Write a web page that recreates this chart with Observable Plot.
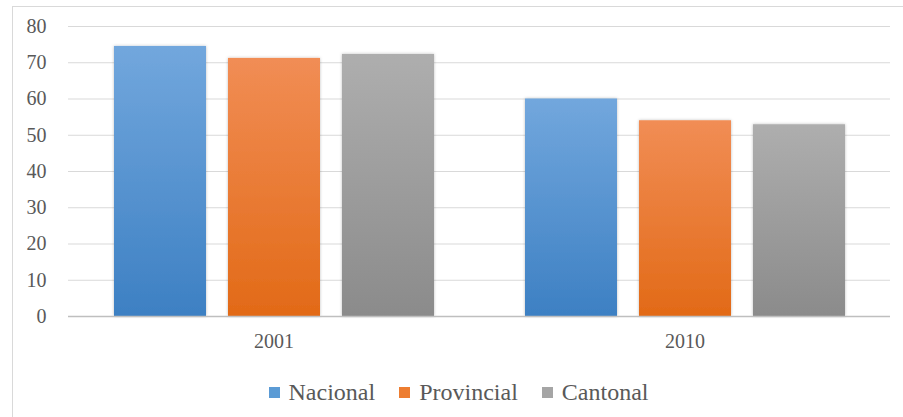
<!DOCTYPE html>
<html>
<head>
<meta charset="utf-8">
<script src="https://cdn.jsdelivr.net/npm/d3@7"></script>
<script src="https://cdn.jsdelivr.net/npm/@observablehq/plot@0.6"></script>
<style>
  html, body { margin: 0; padding: 0; background: #fff; overflow: hidden; width: 903px; height: 417px; }
  #frame { position: absolute; left: 12px; top: 6px; width: 1000px; height: 1000px; border: 1px solid #d9d9d9; box-sizing: border-box; }
  #chart { position: absolute; left: 0; top: 0; }
  #chart svg, #chart svg text { font-family: "Liberation Serif", "DejaVu Serif", serif !important; }
  #legend { position: absolute; left: 7px; top: 379px; width: 903px; display: flex; justify-content: center; align-items: center;
            font-family: "Liberation Serif", "DejaVu Serif", serif; font-size: 24px; color: #595959; }
  #legend .item { display: flex; align-items: center; margin: 0 12px; }
  #legend .sw { width: 11px; height: 11px; margin-right: 9px; }
</style>
</head>
<body>
<div id="frame"></div>
<svg width="0" height="0" style="position:absolute">
  <defs>
    <linearGradient id="gNacional" x1="0" y1="0" x2="0" y2="1">
      <stop offset="0" stop-color="#72a7dd"/><stop offset="1" stop-color="#3d80c3"/>
    </linearGradient>
    <linearGradient id="gProvincial" x1="0" y1="0" x2="0" y2="1">
      <stop offset="0" stop-color="#f18d55"/><stop offset="1" stop-color="#e26a17"/>
    </linearGradient>
    <linearGradient id="gCantonal" x1="0" y1="0" x2="0" y2="1">
      <stop offset="0" stop-color="#aeaeae"/><stop offset="1" stop-color="#8b8b8b"/>
    </linearGradient>
    <filter id="shadow" x="-10%" y="-10%" width="120%" height="120%">
      <feDropShadow dx="0" dy="0" stdDeviation="1.5" flood-color="#000" flood-opacity="0.25"/>
    </filter>
  </defs>
</svg>
<div id="chart"></div>
<div id="legend"></div>
<script>
const years = ["2001", "2010"];
const series = ["Nacional", "Provincial", "Cantonal"];
const nacional = [74.5, 60.0];
const provincial = [71.2, 54.0];
const cantonal = [72.3, 52.9];
const yTicks = [0, 10, 20, 30, 40, 50, 60, 70, 80];
const swatch = {Nacional: "#5b9bd5", Provincial: "#ed7d31", Cantonal: "#a5a5a5"};

const valuesBySeries = {Nacional: nacional, Provincial: provincial, Cantonal: cantonal};
const data = [];
years.forEach((yr, i) => series.forEach(s => data.push({year: yr, series: s, value: valuesBySeries[s][i]})));

const barMarks = series.map(s => Plot.barY(data.filter(d => d.series === s), {
  fx: "year", x: "series", y: "value", fill: `url(#g${s})`
}));

const chart = Plot.plot({
  width: 903,
  height: 360,
  marginLeft: 68,
  marginRight: 13,
  marginTop: 26,
  marginBottom: 44,
  style: {fontSize: "20px", color: "#595959", background: "transparent"},
  fx: {domain: years, axis: "bottom", label: null, tickSize: 0, tickPadding: 17, paddingInner: 0, paddingOuter: 0},
  x: {domain: series, axis: null, paddingInner: 0.193, paddingOuter: 0.399},
  y: {domain: [0, 80], ticks: yTicks, tickSize: 0, tickPadding: 22, label: null},
  marks: [
    Plot.ruleY(yTicks.filter(t => t > 0), {stroke: "#d9d9d9", strokeWidth: 1}),
    ...barMarks,
    Plot.ruleY([0], {stroke: "#bfbfbf", strokeWidth: 1.5})
  ]
});
chart.querySelectorAll("rect").forEach(r => r.setAttribute("filter", "url(#shadow)"));
document.getElementById("chart").appendChild(chart);

const legend = document.getElementById("legend");
series.forEach(s => {
  const item = document.createElement("div");
  item.className = "item";
  const sw = document.createElement("div");
  sw.className = "sw";
  sw.style.background = swatch[s];
  const label = document.createElement("span");
  label.textContent = s;
  item.appendChild(sw);
  item.appendChild(label);
  legend.appendChild(item);
});
</script>
</body>
</html>
